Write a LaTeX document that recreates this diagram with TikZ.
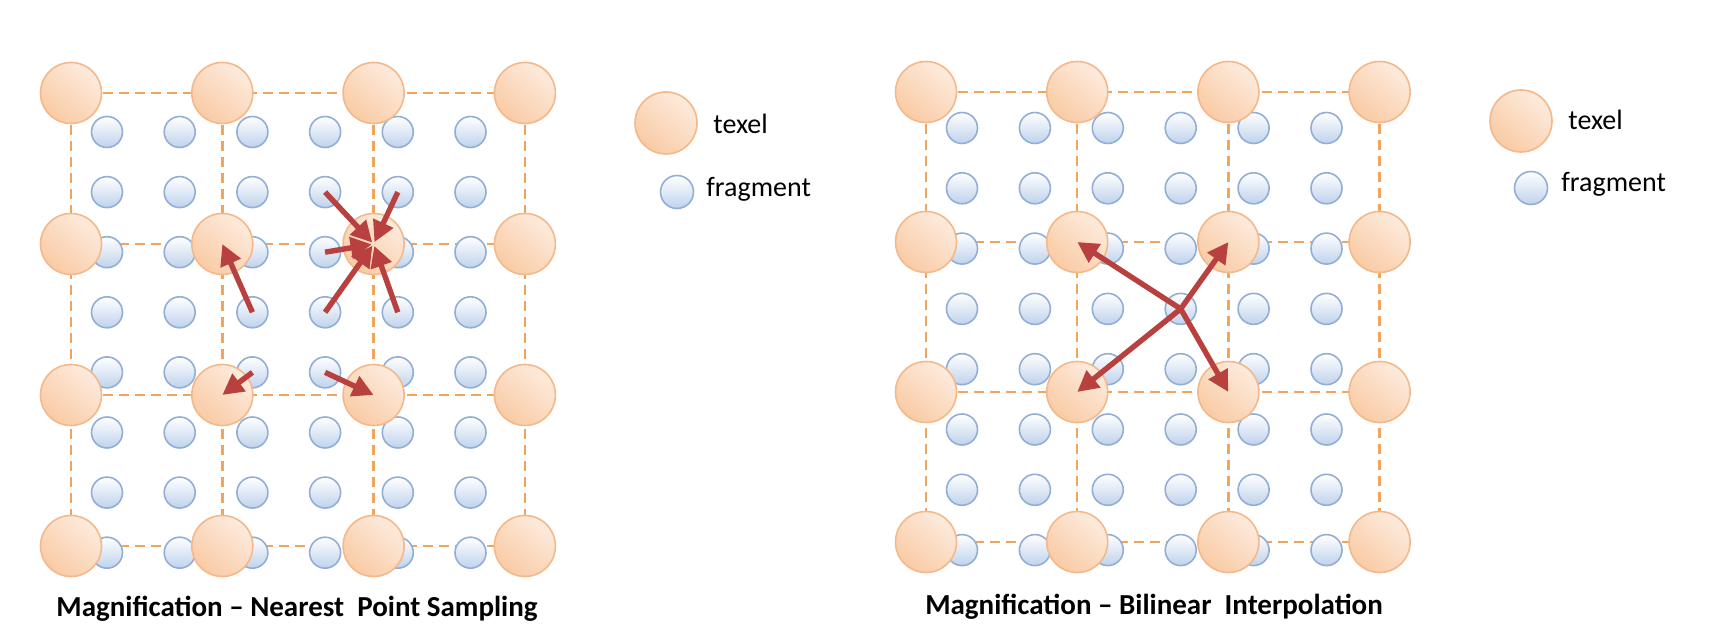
\documentclass[tikz,border=0pt]{standalone}
\usepackage{fontspec}
\setmainfont{Carlito}
\usepackage{xcolor}
\usetikzlibrary{arrows.meta}

\definecolor{texelfill}{HTML}{F9CBA5}
\definecolor{texellight}{HTML}{FDEBDD}
\definecolor{texelline}{HTML}{F4B88A}
\definecolor{fragfill}{HTML}{BFD2EC}
\definecolor{fragline}{HTML}{93AED6}
\definecolor{gridcolor}{HTML}{F2A35C}
\definecolor{arrowred}{HTML}{B8403F}

\pgfdeclarelayer{background}
\pgfsetlayers{background,main}

\tikzset{
  texel/.style={circle, draw=texelline, line width=0.8pt, inner sep=0pt,
    minimum size=30.5pt,
    top color=texellight, bottom color=texelfill, shading angle=-40},
  fragment/.style={circle, draw=fragline, line width=0.8pt, inner sep=0pt,
    minimum size=15.5pt,
    top color=white, bottom color=fragfill},
  gridline/.style={draw=gridcolor, line width=1.2pt, dash pattern=on 5pt off 3pt},
  fetch/.style={draw=arrowred, line width=2.7pt, -{Triangle[length=10.5pt,width=10.5pt]}},
  keytext/.style={anchor=base west, inner sep=0pt, font=\fontsize{14}{16}\selectfont},
  caption/.style={anchor=base, inner sep=0pt, font=\fontsize{14.5}{17}\selectfont\bfseries}
}

\begin{document}
\begin{tikzpicture}[x=0.5pt, y=-0.5pt]
  \useasboundingbox (0,0) rectangle (1709,641);

  % Nearest point sampling
  \foreach \i in {1,...,6}
    \foreach \j in {1,...,8}
      \node[fragment] (lf-\i-\j) at ({107+72.7*(\i-1)},{132+60.1*(\j-1)}) {};
  \foreach \i in {0,...,3}
    \foreach \j in {0,...,3}
      \node[texel] (lt-\i-\j) at ({71+151.3*\i},{93+151*\j}) {};
  \begin{pgfonlayer}{background}
    \foreach \k in {0,...,3} {
      \draw[gridline] (lt-0-\k.center) -- (lt-3-\k.center);
      \draw[gridline] (lt-\k-0.center) -- (lt-\k-3.center);
    }
  \end{pgfonlayer}
  \draw[fetch] (lf-3-4.center) -- (lt-1-1.center);
  \draw[fetch] (lf-3-5.center) -- (lt-1-2.center);
  \draw[fetch] (lf-4-5.center) -- (lt-2-2.center);
  \foreach \f in {4-2,5-2,4-3,4-4,5-4}
    \draw[fetch, shorten >=1pt] (lf-\f.center) -- (lt-2-1.center);

  % legend
  \node[texel, minimum size=31pt] (lkey-texel) at (666,123) {};
  \node[keytext] (lkey-texel-text) at (713,134) {texel};
  \node[fragment, minimum size=16.5pt] (lkey-frag) at (677,192) {};
  \node[keytext] (lkey-frag-text) at (706,197) {fragment};

  \node[caption] (lcaption) at (297,617) {Magnification – Nearest\ \ Point Sampling};

  % Bilinear interpolation
  \foreach \i in {1,...,6}
    \foreach \j in {1,...,8}
      \node[fragment] (rf-\i-\j) at ({962+72.9*(\i-1)},{128+60.3*(\j-1)}) {};
  \foreach \i in {0,...,3}
    \foreach \j in {0,...,3}
      \node[texel] (rt-\i-\j) at ({926+151.2*\i},{92+150*\j}) {};
  \begin{pgfonlayer}{background}
    \foreach \k in {0,...,3} {
      \draw[gridline] (rt-0-\k.center) -- (rt-3-\k.center);
      \draw[gridline] (rt-\k-0.center) -- (rt-\k-3.center);
    }
  \end{pgfonlayer}
  \foreach \t in {1-1,2-1,1-2,2-2}
    \draw[fetch] (rf-4-4.center) -- (rt-\t.center);

  % legend
  \node[texel, minimum size=31pt] (rkey-texel) at (1521,121) {};
  \node[keytext] (rkey-texel-text) at (1568,130) {texel};
  \node[fragment, minimum size=16.5pt] (rkey-frag) at (1531,188) {};
  \node[keytext] (rkey-frag-text) at (1561,192) {fragment};

  \node[caption] (rcaption) at (1154,615) {Magnification – Bilinear\ \ Interpolation};
\end{tikzpicture}
\end{document}
